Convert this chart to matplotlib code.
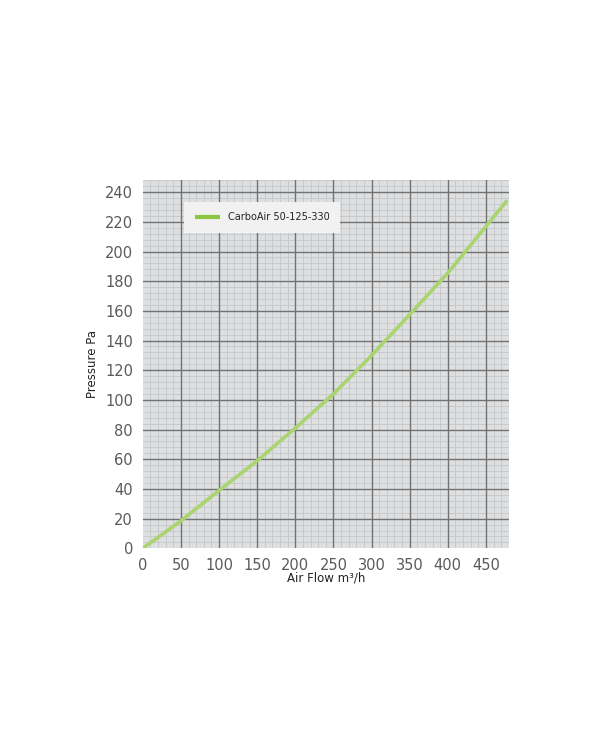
import numpy as np
import matplotlib
matplotlib.use('Agg')
import matplotlib.pyplot as plt
from matplotlib.ticker import MultipleLocator

przeplyw = [0, 50, 100, 150, 200, 250, 300, 350, 400, 450, 478]
cisnienie = [0, 18.5, 39, 59, 81, 104, 130, 157.5, 185.5, 217, 234.5]
nazwa_serii = 'CarboAir 50-125-330'

x_ticks = [0, 50, 100, 150, 200, 250, 300, 350, 400, 450]
y_ticks = [0, 20, 40, 60, 80, 100, 120, 140, 160, 180, 200, 220, 240]

fig = plt.figure(figsize=(6, 7.45), dpi=100)
ax = fig.add_axes([0.238, 0.264, 0.61, 0.494])
ax.set_facecolor('#dedfe1')

ax.plot(przeplyw, cisnienie, color='#a9d46f', lw=2.6, label=nazwa_serii,
        solid_capstyle='butt', zorder=5)

ax.set_xlim(0, 480)
ax.set_ylim(0, 248)
ax.set_xticks(x_ticks)
ax.set_yticks(y_ticks)
ax.xaxis.set_minor_locator(MultipleLocator(10))
ax.yaxis.set_minor_locator(MultipleLocator(4))
ax.grid(which='minor', color='#c6c7c9', lw=0.6)
ax.set_axisbelow(True)
# glowne linie siatki rysowane osobno, zeby byly nad drobnymi
for xv in x_ticks[1:]:
    ax.axvline(xv, color='#727272', lw=1.0, zorder=1)
for yv in y_ticks[1:]:
    ax.axhline(yv, color='#727272', lw=1.0, zorder=1)

for s in ax.spines.values():
    s.set_visible(False)
ax.tick_params(which='both', length=0)
ax.tick_params(axis='both', labelsize=10.5, labelcolor='#5a5a5a', pad=7)

ax.set_xlabel('Air Flow m³/h', fontsize=8.5, color='#222222', labelpad=-1)
ax.set_ylabel('Pressure Pa', fontsize=8.5, color='#222222', labelpad=4)

leg = ax.legend(loc='upper left', bbox_to_anchor=(0.1, 0.955), fontsize=7,
                frameon=True, fancybox=False, handlelength=2.6,
                borderpad=1.1, handletextpad=0.8)
leg.get_frame().set_facecolor('#f1f1f2')
leg.get_frame().set_edgecolor('none')
leg.get_frame().set_alpha(1)
leg.get_texts()[0].set_color('#222222')
for h in leg.get_lines():
    h.set_linewidth(3)
    h.set_color('#8cc63f')

fig.savefig('out.png', dpi=100, facecolor='white')
